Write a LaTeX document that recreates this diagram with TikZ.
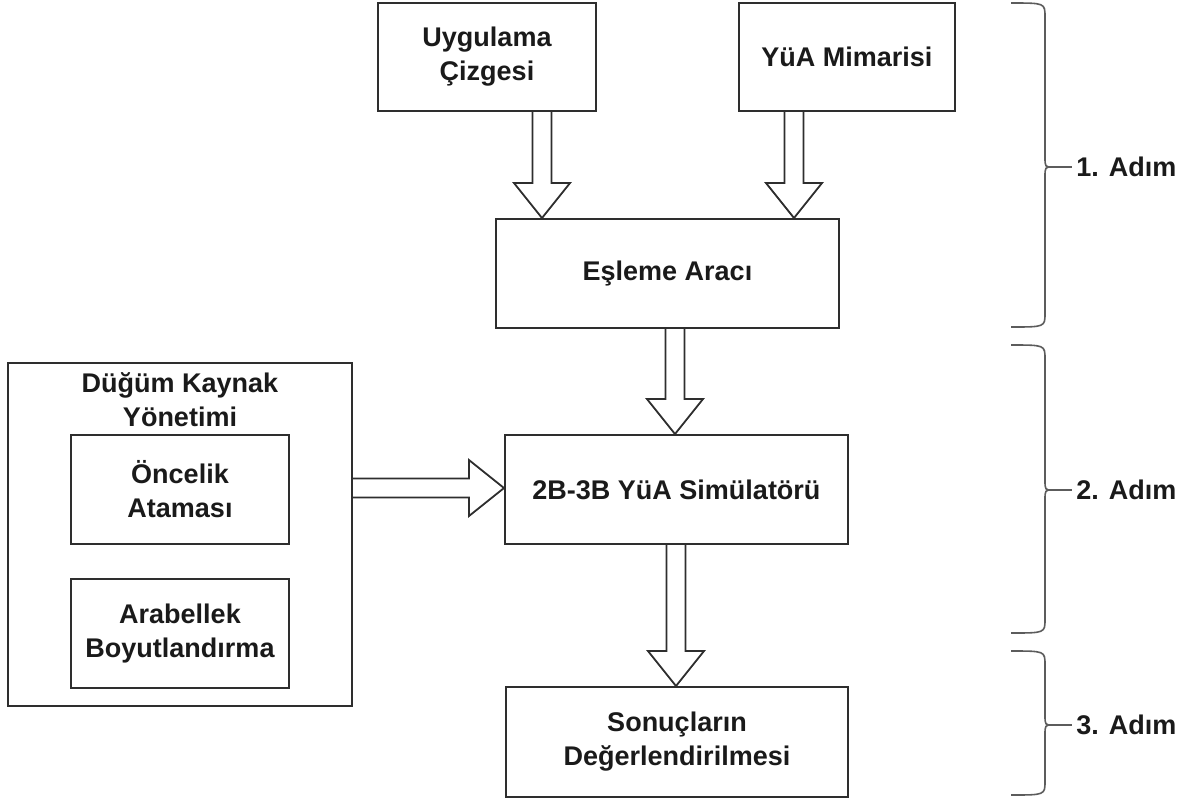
\documentclass[tikz,border=0pt]{standalone}
\usepackage{fontspec}
\setmainfont{Liberation Sans}
\usepackage{tikz}
\usetikzlibrary{calc}
\definecolor{boxline}{HTML}{2E2E2E}
\definecolor{braceline}{HTML}{5C5C5C}
\definecolor{ink}{HTML}{1A1A1A}
\newcommand{\fsBox}{\fontsize{13.5}{17}\selectfont\bfseries}

\begin{document}
\begin{tikzpicture}[x=0.5pt, y=-0.5pt,
  blk/.style={draw=boxline, line width=1pt, fill=white, inner sep=0pt,
    align=center, font=\fsBox, text=ink},
  hollow/.style={draw=boxline, line width=0.9pt, fill=white, line join=miter},
  bracket/.style={draw=braceline, line width=0.8pt},
  steplbl/.style={font=\fsBox, text=ink, anchor=west, inner sep=2pt}]
  \useasboundingbox (0,0) rectangle (1195,800);
  \def\ShaftHW{4.75pt}\def\HeadHW{14pt}\def\HeadL{17.5pt}
  \newcommand{\arrowDown}[3]{%
    \draw[hollow] let \p1=(#1,0), \p2=(#2.south), \p3=(#3.north) in
      (\x1-\ShaftHW,\y2) -- (\x1-\ShaftHW,\y3+\HeadL) -- (\x1-\HeadHW,\y3+\HeadL)
      -- (\x1,\y3) -- (\x1+\HeadHW,\y3+\HeadL) -- (\x1+\ShaftHW,\y3+\HeadL)
      -- (\x1+\ShaftHW,\y2);
  }
  \newcommand{\arrowRight}[3]{%
    \draw[hollow] let \p1=(0,#1), \p2=(#2.east), \p3=(#3.west) in
      (\x2,\y1+\ShaftHW) -- (\x3-\HeadL,\y1+\ShaftHW) -- (\x3-\HeadL,\y1+\HeadHW)
      -- (\x3,\y1) -- (\x3-\HeadL,\y1-\HeadHW) -- (\x3-\HeadL,\y1-\ShaftHW)
      -- (\x2,\y1-\ShaftHW);
  }
  \newcommand{\stepBrace}[5]{%
    \node[steplbl] (#4) at (1072,#3) {#5};
    \draw[bracket] (1011,#1) .. controls (1045,#1) .. (1045,#1+14)
      -- (1045,#3-10) .. controls (1045,#3) .. (1053,#3)
      .. controls (1045,#3) .. (1045,#3+10)
      -- (1045,#2-14) .. controls (1045,#2) .. (1011,#2);
    \draw[bracket] (1053,#3) -- (#4.west);
  }
  \node[blk, minimum width=109pt, minimum height=54pt] (uyg) at (487,57) {Uygulama\\Çizgesi};
  \node[blk, minimum width=108pt, minimum height=54pt] (yua) at (847,57) {YüA Mimarisi};
  \node[blk, minimum width=171.5pt, minimum height=54.5pt] (esl) at (667.5,273.5) {Eşleme Aracı};
  \node[blk, minimum width=171.5pt, minimum height=54.5pt] (sim) at (676.5,489.5) {2B-3B YüA Simülatörü};
  \node[blk, minimum width=171pt, minimum height=55pt] (son) at (677,742) {Sonuçların\\Değerlendirilmesi};
  \node[blk, minimum width=172pt, minimum height=171.5pt] (dky) at (180,534.5) {};
  \node[font=\fsBox, text=ink, align=center, inner sep=0pt] (dkyt) at (180,400) {Düğüm Kaynak\\Yönetimi};
  \node[blk, minimum width=109pt, minimum height=54.5pt] (onc) at (180,489.5) {Öncelik\\Ataması};
  \node[blk, minimum width=109pt, minimum height=54.5pt] (arb) at (180,633.5) {Arabellek\\Boyutlandırma};
  \arrowDown{542}{uyg}{esl}
  \arrowDown{794}{yua}{esl}
  \arrowDown{675}{esl}{sim}
  \arrowDown{676}{sim}{son}
  \arrowRight{488}{dky}{sim}
  \stepBrace{3}{327}{167}{s1}{1. Adım}
  \stepBrace{345}{633}{490}{s2}{2. Adım}
  \stepBrace{651}{795}{725}{s3}{3. Adım}
\end{tikzpicture}
\end{document}
